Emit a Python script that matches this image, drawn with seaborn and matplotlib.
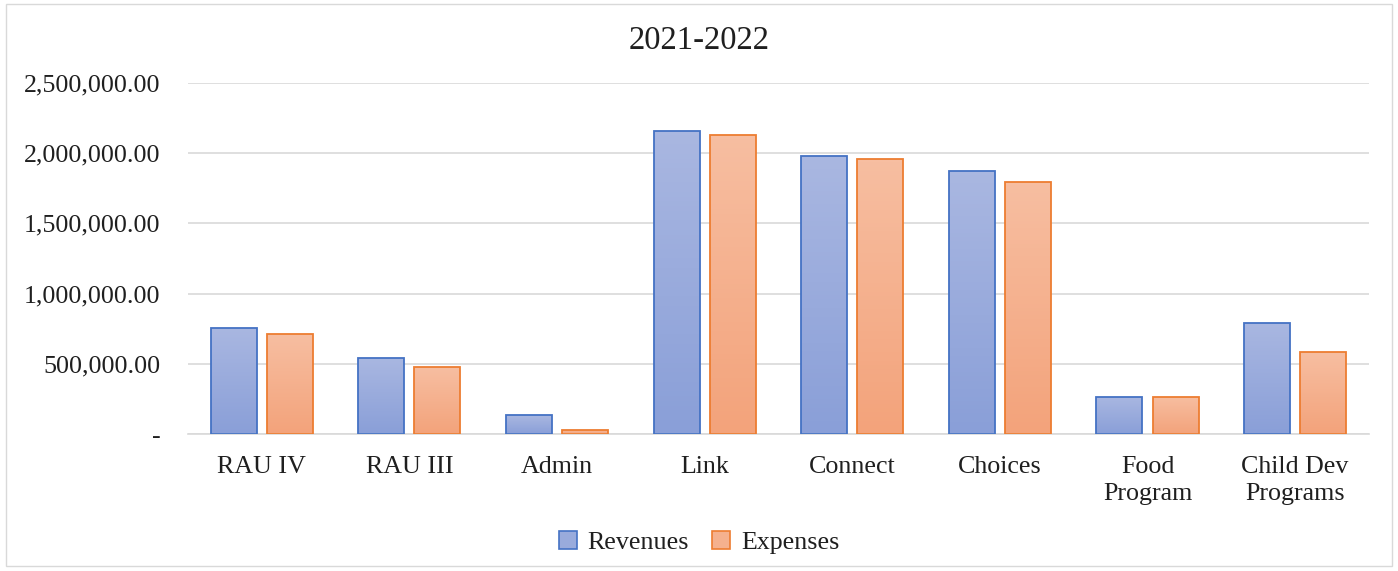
import numpy as np
import pandas as pd
import matplotlib
matplotlib.use('Agg')
import matplotlib.pyplot as plt
import matplotlib.ticker as mticker
from matplotlib.patches import Patch, Rectangle
from matplotlib.colors import LinearSegmentedColormap
import seaborn as sns

# data
programs = ['RAU IV', 'RAU III', 'Admin', 'Link', 'Connect', 'Choices',
            'Food\nProgram', 'Child Dev\nPrograms']
revenues = [756000, 542000, 133000, 2159000, 1978000, 1871000, 266000, 794000]
expenses = [711000, 476000, 29000, 2133000, 1959000, 1797000, 264000, 583000]
series = ['Revenues', 'Expenses']
yticks = [0, 500000, 1000000, 1500000, 2000000, 2500000]

df = pd.DataFrame({
    'program': programs * 2,
    'series': ['Revenues'] * len(programs) + ['Expenses'] * len(programs),
    'value': revenues + expenses,
})

sns.set_style('white')
plt.rcParams['font.family'] = ['Liberation Serif', 'DejaVu Serif']

edge = {'Revenues': '#4472C4', 'Expenses': '#ED7D31'}
grad = {'Revenues': ('#8A9FD8', '#A9B7E1'), 'Expenses': ('#F3A37B', '#F7BEA1')}
mid = {'Revenues': '#99ABDC', 'Expenses': '#F5B18E'}
txt = '#1F1F1F'

fig = plt.figure(figsize=(13.98, 5.71), dpi=100)
ax = fig.add_axes([0.1345, 0.2399, 0.8447, 0.6147])

sns.barplot(data=df, x='program', y='value', hue='series', hue_order=series,
            palette=mid, width=0.76, gap=0.18, legend=False, ax=ax, zorder=3)

# vertical gradient fill inside each bar, edge kept on top
for cont, name in zip(ax.containers, series):
    cmap = LinearSegmentedColormap.from_list(name, list(grad[name]))
    for p in cont.patches:
        x0, y0 = p.get_x(), p.get_y()
        w, h = p.get_width(), p.get_height()
        img = ax.imshow(np.linspace(0, 1, 64).reshape(-1, 1), cmap=cmap,
                        extent=[x0, x0 + w, y0, y0 + h], origin='lower',
                        aspect='auto', zorder=2.5)
        img.set_clip_path(p)
        p.set_facecolor('none')
        p.set_edgecolor(edge[name])
        p.set_linewidth(1.3)

ax.set_xlim(-0.5, len(programs) - 0.5)
ax.set_ylim(0, 2500000)
ax.set_yticks(yticks)
ax.yaxis.set_major_formatter(mticker.FuncFormatter(
    lambda v, pos: '-' if v == 0 else f'{v:,.2f}'))
ax.yaxis.grid(True, color='#D9D9D9', linewidth=1.2, zorder=0)
ax.set_axisbelow(True)
for s in ['top', 'right', 'left']:
    ax.spines[s].set_visible(False)
ax.spines['bottom'].set_color('#D9D9D9')
ax.spines['bottom'].set_linewidth(1.2)
ax.tick_params(axis='y', length=0, pad=20, labelsize=18.7, labelcolor=txt)
ax.tick_params(axis='x', length=0, pad=16, labelsize=18.7, labelcolor=txt)
for lab in ax.get_xticklabels():
    lab.set_linespacing(1.3)
ax.set_xlabel('')
ax.set_ylabel('')

fig.suptitle('2021-2022', fontsize=23.5, color=txt, y=0.955)

handles = [Patch(facecolor=mid[s], edgecolor=edge[s], linewidth=1.2, label=s)
           for s in series]
fig.legend(handles=handles, loc='center', bbox_to_anchor=(0.5, 0.05), ncol=2,
           frameon=False, fontsize=18.7, handlelength=0.7, handleheight=0.7,
           handletextpad=0.4, columnspacing=0.9, labelcolor=txt)

fig.patches.append(Rectangle((0.004, 0.008), 0.992, 0.985, transform=fig.transFigure,
                             fill=False, edgecolor='#D9D9D9', linewidth=1))

fig.savefig('out.png', dpi=100, facecolor='white')
